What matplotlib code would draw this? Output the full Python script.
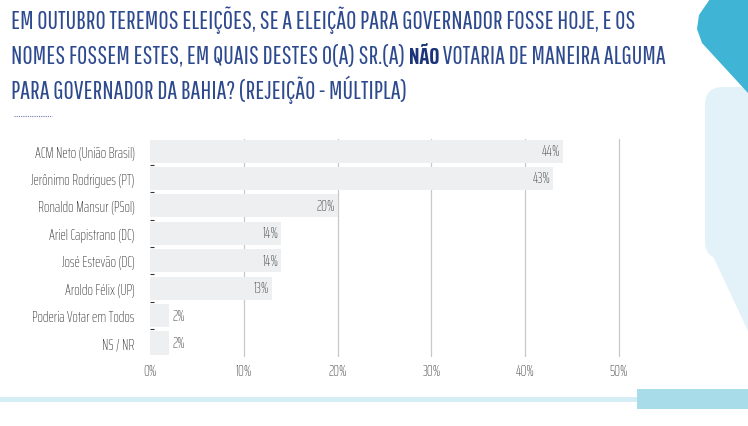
import matplotlib
matplotlib.use("Agg")
import matplotlib.pyplot as plt
from matplotlib.patches import FancyBboxPatch, Polygon, Rectangle
from matplotlib.lines import Line2D

# data
labels = ["ACM Neto (União Brasil)", "Jerônimo Rodrigues (PT)", "Ronaldo Mansur (PSol)",
          "Ariel Capistrano (DC)", "José Estevão (DC)", "Aroldo Félix (UP)",
          "Poderia Votar em Todos", "NS / NR"]
values = [44, 43, 20, 14, 14, 13, 2, 2]
xticks = [0, 10, 20, 30, 40, 50]

TITLE_FONT = ["Pathway Gothic One", "DejaVu Sans"]
BOLD_FONT = ["Saira ExtraCondensed", "DejaVu Sans"]
LABEL_FONT = ["Saira ExtraCondensed", "DejaVu Sans"]
title_color = "#2e4a8f"
bold_color = "#1b3479"

W, H = 748, 427
fig = plt.figure(figsize=(W / 100, H / 100), dpi=100)
fig.patch.set_facecolor("white")

def fx(px):
    return px / W

def fy(py):
    return 1 - py / H

# background decorations
deco = fig.add_axes([0, 0, 1, 1], zorder=0)
deco.set_xlim(0, W)
deco.set_ylim(H, 0)
deco.axis("off")
deco.add_patch(FancyBboxPatch((705, 88), 60, 172, boxstyle="round,pad=0,rounding_size=18",
                              fc="#e2f2f8", ec="none"))
deco.add_patch(Polygon([(705, 240), (748, 240), (748, 332)], closed=True, fc="#e2f2f8", ec="none"))
deco.add_patch(Polygon([(748, 0), (710, 0), (699, 16), (697, 30), (702, 44), (748, 94)],
                       closed=True, fc="#3fb4d5", ec="none"))
deco.add_patch(Rectangle((0, 398), 705, 5, fc="#d5eef5", ec="none"))
deco.add_patch(Rectangle((637, 390), 111, 20, fc="#a9dce9", ec="none"))
deco.add_line(Line2D([14, 52], [117, 117], color="#6b7fb0", lw=0.8, ls=(0, (1, 1))))

# bar chart
ax = fig.add_axes([fx(150), fy(358), fx(637.8 - 150), fy(140) - fy(358)], zorder=1)
ax.patch.set_alpha(0)
ypos = list(range(len(labels)))
ax.barh(ypos, values, height=0.84, color="#edeff0", zorder=2)
ax.set_xlim(0, 52)
ax.set_ylim(7.51, -0.44)
ax.set_xticks(xticks)
ax.set_xticklabels([f"{t}%" for t in xticks], fontfamily=LABEL_FONT, fontsize=10.5,
                   fontweight="light", color="#4a4a4a")
ax.set_yticks(ypos)
ax.set_yticklabels(labels, fontfamily=LABEL_FONT, fontsize=10.5, fontweight="light", color="#3a3a3a")
ax.tick_params(axis="both", length=0)
ax.tick_params(axis="y", pad=11)
ax.tick_params(axis="x", pad=5)
ax.set_yticks([i + 0.5 for i in ypos[:-1]], minor=True)
ax.tick_params(axis="y", which="minor", length=3, width=0.8, color="#333333", direction="in")
for t in xticks[1:]:
    ax.axvline(t, color="#c8c8c8", lw=0.9, zorder=1)
for s in ax.spines.values():
    s.set_visible(False)

for i, v in enumerate(values):
    if v >= 10:
        ax.text(v - 0.3, i, f"{v}%", ha="right", va="center", fontfamily=LABEL_FONT,
                fontsize=10.5, fontweight="light", color="#4a4a4a", zorder=3)
    else:
        ax.text(v + 0.4, i, f"{v}%", ha="left", va="center", fontfamily=LABEL_FONT,
                fontsize=10.5, fontweight="light", color="#4a4a4a", zorder=3)

# title, size fitted so the first line is about as wide as in the reference
renderer = fig.canvas.get_renderer()
lines = [
    [("EM OUTUBRO TEREMOS ELEIÇÕES, SE A ELEIÇÃO PARA GOVERNADOR FOSSE HOJE, E OS", TITLE_FONT, "normal", title_color)],
    [("NOMES FOSSEM ESTES, EM QUAIS DESTES O(A) SR.(A) ", TITLE_FONT, "normal", title_color),
     ("NÃO", BOLD_FONT, "bold", bold_color),
     (" VOTARIA DE MANEIRA ALGUMA", TITLE_FONT, "normal", title_color)],
    [("PARA GOVERNADOR DA BAHIA? (REJEIÇÃO - MÚLTIPLA)", TITLE_FONT, "normal", title_color)],
]
probe = fig.text(0, 0, lines[0][0][0], fontfamily=TITLE_FONT, fontsize=20)
tsize = 20 * 622 / probe.get_window_extent(renderer).width
probe.remove()

baselines = [29, 64, 99]
for parts, base in zip(lines, baselines):
    x = 11
    for txt, fam, wt, col in parts:
        size = tsize if fam is TITLE_FONT else tsize * 0.95
        t = fig.text(fx(x), fy(base), txt, fontfamily=fam, fontsize=size,
                     fontweight=wt, color=col, ha="left", va="baseline")
        x += t.get_window_extent(renderer).width

fig.savefig("out.png", dpi=100, facecolor="white")
